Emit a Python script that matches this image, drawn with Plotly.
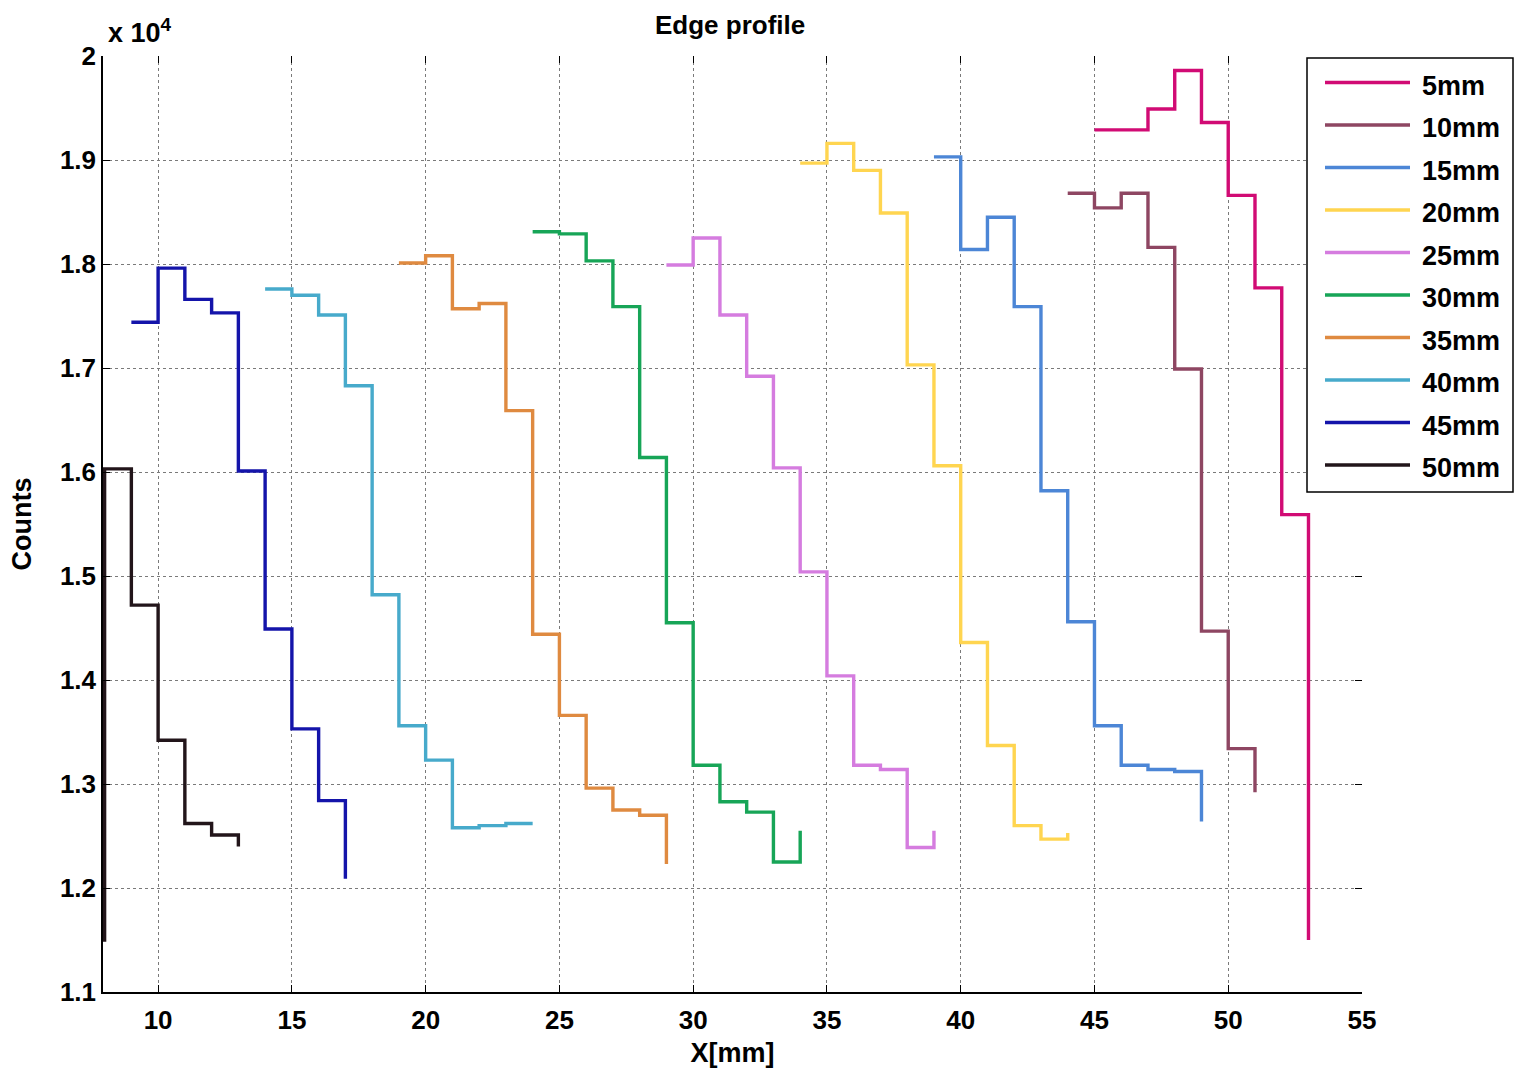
import plotly.graph_objects as go

# ---------------- data (counts; x in mm) ----------------
names = ["5mm", "10mm", "15mm", "20mm", "25mm", "30mm", "35mm", "40mm", "45mm", "50mm"]
colors = ["#D10B74", "#8E4662", "#4C86D6", "#FFD550", "#D57CDF",
          "#17A557", "#DF8A40", "#47AACB", "#1414AA", "#22151A"]

x_5 = [45, 46, 47, 48, 49, 50, 51, 52, 53]
y_5 = [19290, 19290, 19490, 19860, 19360, 18660, 17770, 15590, 11500]

x_10 = [44, 45, 46, 47, 48, 49, 50, 51]
y_10 = [18680, 18540, 18680, 18160, 16990, 14470, 13340, 12920]

x_15 = [39, 40, 41, 42, 43, 44, 45, 46, 47, 48, 49]
y_15 = [19030, 18140, 18450, 17590, 15820, 14560, 13560, 13180, 13140, 13120, 12640]

x_20 = [34, 35, 36, 37, 38, 39, 40, 41, 42, 43, 44]
y_20 = [18970, 19160, 18900, 18490, 17030, 16060, 14360, 13370, 12600, 12470, 12530]

x_25 = [29, 30, 31, 32, 33, 34, 35, 36, 37, 38, 39]
y_25 = [17990, 18250, 17510, 16920, 16040, 15040, 14040, 13180, 13140, 12390, 12550]

x_30 = [24, 25, 26, 27, 28, 29, 30, 31, 32, 33, 34]
y_30 = [18310, 18290, 18030, 17590, 16140, 14550, 13180, 12830, 12730, 12250, 12550]

x_35 = [19, 20, 21, 22, 23, 24, 25, 26, 27, 28, 29]
y_35 = [18010, 18080, 17570, 17620, 16590, 14440, 13660, 12960, 12750, 12700, 12230]

x_40 = [14, 15, 16, 17, 18, 19, 20, 21, 22, 23, 24]
y_40 = [17760, 17700, 17510, 16830, 14820, 13560, 13230, 12580, 12600, 12620, 12620]

x_45 = [9, 10, 11, 12, 13, 14, 15, 16, 17]
y_45 = [17440, 17960, 17660, 17530, 16010, 14490, 13530, 12840, 12090]

x_50 = [7, 8, 9, 10, 11, 12, 13]
y_50 = [11500, 16030, 14720, 13420, 12620, 12510, 12400]

xs = [x_5, x_10, x_15, x_20, x_25, x_30, x_35, x_40, x_45, x_50]
ys = [y_5, y_10, y_15, y_20, y_25, y_30, y_35, y_40, y_45, y_50]

x_ticks = [10, 15, 20, 25, 30, 35, 40, 45, 50, 55]
y_ticks = [11000, 12000, 13000, 14000, 15000, 16000, 17000, 18000, 19000, 20000]
y_ticktext = ["1.1", "1.2", "1.3", "1.4", "1.5", "1.6", "1.7", "1.8", "1.9", "2"]

title_text = "Edge profile"
x_title = "X[mm]"
y_title = "Counts"
exp_text = "x 10<sup>4</sup>"

# ---------------- layout geometry ----------------
W, H = 1518, 1074
L, R, T, B = 103, 156, 56, 82
PW, PH = W - L - R, H - T - B
FONT = "Liberation Sans, Arial, sans-serif"


def px(xp):
    return (xp - L) / PW


def py(yp):
    return (H - B - yp) / PH


fig = go.Figure()
for n, c, xv, yv in zip(names, colors, xs, ys):
    fig.add_trace(go.Scatter(x=xv, y=yv, mode="lines", name=n,
                             line=dict(color=c, width=3.4, shape="hv"),
                             showlegend=False))

# invisible trace for mirrored tick axes
fig.add_trace(go.Scatter(x=[8], y=[11000], xaxis="x2", yaxis="y2", mode="markers",
                         marker=dict(opacity=0), showlegend=False, hoverinfo="skip"))

axis_common = dict(ticks="inside", ticklen=7, tickwidth=1, tickcolor="black",
                   showgrid=True, gridcolor="#7a7a7a", griddash="dot", gridwidth=1,
                   zeroline=False, showline=True, linecolor="black", linewidth=1.5,
                   automargin=False,
                   tickfont=dict(family=FONT, size=26, color="black", weight="bold"))

fig.update_layout(
    width=W, height=H,
    margin=dict(l=L, r=R, t=T, b=B, pad=0, autoexpand=False),
    paper_bgcolor="white", plot_bgcolor="white",
    font=dict(family=FONT, color="black"),
    showlegend=False,
    xaxis=dict(range=[7.94, 55], tickvals=x_ticks, ticktext=[str(v) for v in x_ticks],
               ticklabelstandoff=4,
               title=dict(text=x_title, standoff=9,
                          font=dict(family=FONT, size=27, weight="bold", color="black")),
               **axis_common),
    yaxis=dict(range=[11000, 20000], tickvals=y_ticks, ticktext=y_ticktext,
               ticklabelstandoff=0,
               title=dict(text=y_title, standoff=20,
                          font=dict(family=FONT, size=27, weight="bold", color="black")),
               **axis_common),
    xaxis2=dict(overlaying="x", side="top", range=[7.94, 55], tickvals=x_ticks,
                ticks="inside", ticklen=7, tickcolor="black", showticklabels=False,
                showgrid=False, zeroline=False, showline=False, automargin=False),
    yaxis2=dict(overlaying="y", side="right", range=[11000, 20000], tickvals=y_ticks,
                ticks="inside", ticklen=7, tickcolor="black", showticklabels=False,
                showgrid=False, zeroline=False, showline=False, automargin=False),
)

annotations = [
    dict(text="<b>" + title_text + "</b>", x=px(730), y=py(25), xref="paper", yref="paper",
         showarrow=False, xanchor="center", yanchor="middle",
         font=dict(family=FONT, size=26, color="black")),
    dict(text="<b>" + exp_text + "</b>", x=px(106), y=py(50), xref="paper", yref="paper",
         showarrow=False, xanchor="left", yanchor="bottom",
         font=dict(family=FONT, size=27, color="black")),
]

# manual legend (MATLAB style, long line samples)
shapes = [dict(type="rect", xref="paper", yref="paper",
               x0=px(1307), x1=px(1513), y0=py(492), y1=py(58),
               line=dict(color="black", width=1.5), fillcolor="white", layer="above")]
for i, (n, c) in enumerate(zip(names, colors)):
    yc = 82.5 + i * 42.5
    shapes.append(dict(type="line", xref="paper", yref="paper",
                       x0=px(1325), x1=px(1410), y0=py(yc), y1=py(yc),
                       line=dict(color=c, width=3.4), layer="above"))
    annotations.append(dict(text="<b>" + n + "</b>", x=px(1420), y=py(yc + 3),
                            xref="paper", yref="paper", showarrow=False,
                            xanchor="left", yanchor="middle",
                            font=dict(family=FONT, size=27, color="black")))

fig.update_layout(shapes=shapes, annotations=annotations)

fig.write_html("out.html")
